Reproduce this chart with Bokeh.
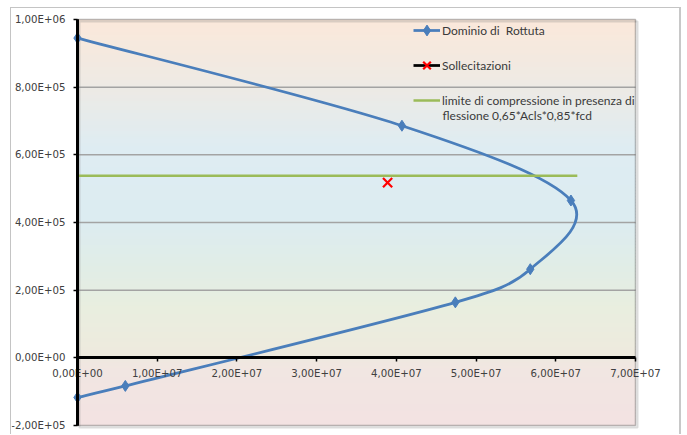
import numpy as np
from bokeh.plotting import figure
from bokeh.models import (LinearAxis, FixedTicker, Legend, LegendItem,
                          BoxAnnotation, Label, Range1d)
from bokeh.embed import file_html
from bokeh.resources import INLINE

# ---- data ----
dom_N = [0.0, 4.07e7, 6.19e7, 5.68e7, 4.74e7, 0.60e7, 0.0]
dom_M = [9.45e5, 6.86e5, 4.65e5, 2.62e5, 1.64e5, -0.83e5, -1.17e5]
soll_N = [3.89e7]
soll_M = [5.18e5]
lim_N = [0.0, 6.27e7]
lim_M = [5.38e5, 5.38e5]

x_ticks = [0.0, 1e7, 2e7, 3e7, 4e7, 5e7, 6e7, 7e7]
x_labels = ["0,00E+00", "1,00E+07", "2,00E+07", "3,00E+07", "4,00E+07",
            "5,00E+07", "6,00E+07", "7,00E+07"]
y_ticks = [-2e5, 0.0, 2e5, 4e5, 6e5, 8e5, 1e6]
y_labels = ["-2,00E+05", "0,00E+00", "2,00E+05", "4,00E+05", "6,00E+05",
            "8,00E+05", "1,00E+06"]
grid_y = [2e5, 4e5, 6e5, 8e5]

XMIN, XMAX = x_ticks[0], x_ticks[-1]
YMIN, YMAX = y_ticks[0], y_ticks[-1]

BLUE = "#4A7EBB"
GREEN = "#9BBB59"
TICK_FONT = "DejaVu Sans"
LEG_FONT = "Lato"

W, H = 671, 427
# plot area inside the canvas (pixels): left 66, right 624, top 11, bottom 417
PL, PR, PT, PB = 66, 624, 11, 417
sx = (XMAX - XMIN) / (PR - PL)
sy = (YMAX - YMIN) / (PB - PT)
x_range = Range1d(XMIN - PL * sx, XMAX + (W - PR) * sx)
y_range = Range1d(YMIN - (H - PB) * sy, YMAX + PT * sy)

p = figure(width=W, height=H, output_backend="svg", toolbar_location=None,
           x_range=x_range, y_range=y_range,
           x_axis_location=None, y_axis_location=None,
           min_border_left=0, min_border_right=0, min_border_top=0,
           min_border_bottom=0)
p.styles = {"margin-left": "10px", "margin-top": "7px",
            "border-left": "1px solid #c4c4c4", "border-top": "1px solid #c4c4c4",
            "border-right": "2px solid #c8c8c8"}
p.background_fill_color = "white"
p.border_fill_color = "white"
p.outline_line_color = None
p.xgrid.visible = False
p.ygrid.visible = False

# ---- background gradient of the plot area (style only) ----
stops = [(1e6, (251, 232, 218)), (8.1e5, (238, 234, 228)), (6.2e5, (222, 236, 242)),
         (4.1e5, (220, 236, 241)), (2.6e5, (225, 237, 230)), (1.45e5, (233, 238, 223)),
         (1.2e4, (238, 234, 222)), (-3.3e4, (241, 230, 226)), (-2e5, (243, 226, 226))]
gy = [s[0] for s in stops][::-1]
cols = np.array([s[1] for s in stops][::-1], dtype=float)
edges = np.linspace(YMIN, YMAX, 136)
for b, t in zip(edges[:-1], edges[1:]):
    m = 0.5 * (b + t)
    c = [int(round(np.interp(m, gy, cols[:, k]))) for k in range(3)]
    p.add_layout(BoxAnnotation(left=XMIN, right=XMAX, bottom=b, top=min(t + sy, YMAX),
                               fill_color="#%02x%02x%02x" % tuple(c),
                               fill_alpha=1.0, line_color=None, level="image"))

# horizontal grid lines limited to the plot area
for g in grid_y:
    p.add_layout(BoxAnnotation(left=XMIN, right=XMAX, bottom=g - 0.75 * sy,
                               top=g + 0.75 * sy, fill_color="#a3a3a3",
                               fill_alpha=1.0, line_color=None, level="underlay"))

# plot-area border with a light shadow
p.add_layout(BoxAnnotation(left=XMIN + 2 * sx, right=XMAX + 2 * sx,
                           bottom=YMIN - 2 * sy, top=YMAX - 2 * sy,
                           fill_alpha=0, line_color="#8a8a8a", line_width=2,
                           level="underlay"))
p.add_layout(BoxAnnotation(left=XMIN, right=XMAX, bottom=YMIN, top=YMAX,
                           fill_alpha=0, line_color="#1e1e1e", line_width=1.5,
                           level="underlay"))
# vertical axis line drawn explicitly as well (3 px, below the markers)
p.add_layout(BoxAnnotation(left=-1.5 * sx, right=1.5 * sx, bottom=YMIN, top=YMAX,
                           fill_color="black", fill_alpha=1.0, line_color=None,
                           level="underlay"))

# ---- axes ----
yax = LinearAxis(ticker=FixedTicker(ticks=y_ticks), fixed_location=0,
                 bounds=(YMIN, YMAX),
                 major_label_overrides={v: l for v, l in zip(y_ticks, y_labels)})
xax = LinearAxis(ticker=FixedTicker(ticks=x_ticks), fixed_location=0,
                 bounds=(XMIN, XMAX),
                 major_label_overrides={v: l for v, l in zip(x_ticks, x_labels)})
for ax, so in ((yax, 8), (xax, 6)):
    ax.axis_line_color = "black"
    ax.axis_line_width = 3
    ax.major_tick_line_color = "black"
    ax.major_tick_line_width = 1.5
    ax.major_tick_out = 4
    ax.major_tick_in = 0
    ax.minor_tick_line_color = None
    ax.major_label_standoff = so
    ax.major_label_text_font = TICK_FONT
    ax.major_label_text_font_size = "10.2px"
    ax.major_label_text_color = "#404040"
    ax.background_fill_color = None
p.add_layout(yax, "left")
p.add_layout(xax, "below")

# ---- smoothed "Dominio di Rottura" line (Excel-style Bezier smoothing) ----
pts = np.array(list(zip(dom_N, dom_M)), dtype=float)
scale = np.array([1.0 / sx, 1.0 / sy])          # data -> pixels for distances
n = len(pts)
def dist(a, b):
    return float(np.hypot(*((a - b) * scale)))
x0, y0, x1, y1, cx0, cy0, cx1, cy1 = ([] for _ in range(8))
for i in range(n - 1):
    pa = pts[i - 1] if i > 0 else pts[i]
    pb, pc = pts[i], pts[i + 1]
    pd = pts[i + 2] if i + 2 < n else pts[i + 1]
    d12 = dist(pb, pc)
    d02 = dist(pa, pc)
    d13 = dist(pb, pd)
    f1 = 1.0 / 6.0
    f2 = 1.0 / 6.0
    if d02 / 6.0 >= d12 / 2.0 and d02 > 0:
        f1 = d12 / d02 / 2.0
    if d13 / 6.0 >= d12 / 2.0 and d13 > 0:
        f2 = d12 / d13 / 2.0
    c1 = pb + (pc - pa) * f1
    c2 = pc - (pd - pb) * f2
    x0.append(pb[0]); y0.append(pb[1]); x1.append(pc[0]); y1.append(pc[1])
    cx0.append(c1[0]); cy0.append(c1[1]); cx1.append(c2[0]); cy1.append(c2[1])
p.bezier(x0=x0, y0=y0, x1=x1, y1=y1, cx0=cx0, cy0=cy0, cx1=cx1, cy1=cy1,
         line_color=BLUE, line_width=2.75)
dom_leg_line = p.line(dom_N[:1], dom_M[:1], line_color=BLUE, line_width=2.75)
dom_marks = p.scatter(dom_N, dom_M, marker="diamond", size=11, fill_color=BLUE,
                      line_color=BLUE)

lim_line = p.line(lim_N, lim_M, line_color=GREEN, line_width=2.5)

soll_leg_line = p.line(soll_N, soll_M, line_color="black", line_width=2.75)
soll_marks = p.scatter(soll_N, soll_M, marker="x", size=13, line_color="red",
                       line_width=2.2)

# ---- legend ----
legend = Legend(items=[
    LegendItem(label="Dominio di  Rottuta", renderers=[dom_leg_line, dom_marks]),
    LegendItem(label="Sollecitazioni", renderers=[soll_leg_line, soll_marks]),
    LegendItem(label="limite di compressione in presenza di", renderers=[lim_line]),
], location=(PL + 336, H - PT - 100 + 4))
legend.orientation = "vertical"
legend.padding = 0
legend.margin = 0
legend.spacing = 5
legend.glyph_width = 27
legend.glyph_height = 30
legend.label_height = 30
legend.label_standoff = 2
legend.border_line_color = None
legend.background_fill_alpha = 0
legend.label_text_font = LEG_FONT
legend.label_text_font_size = "12px"
legend.label_text_color = "#3a3a3a"
p.add_layout(legend, "center")

p.add_layout(Label(x=XMIN + 365 * sx, y=YMAX - 96 * sy,
                   text="flessione 0,65*Acls*0,85*fcd",
                   text_font=LEG_FONT, text_font_size="12px",
                   text_color="#3a3a3a", text_baseline="middle"))

open("out.html", "w").write(file_html(p, INLINE))
